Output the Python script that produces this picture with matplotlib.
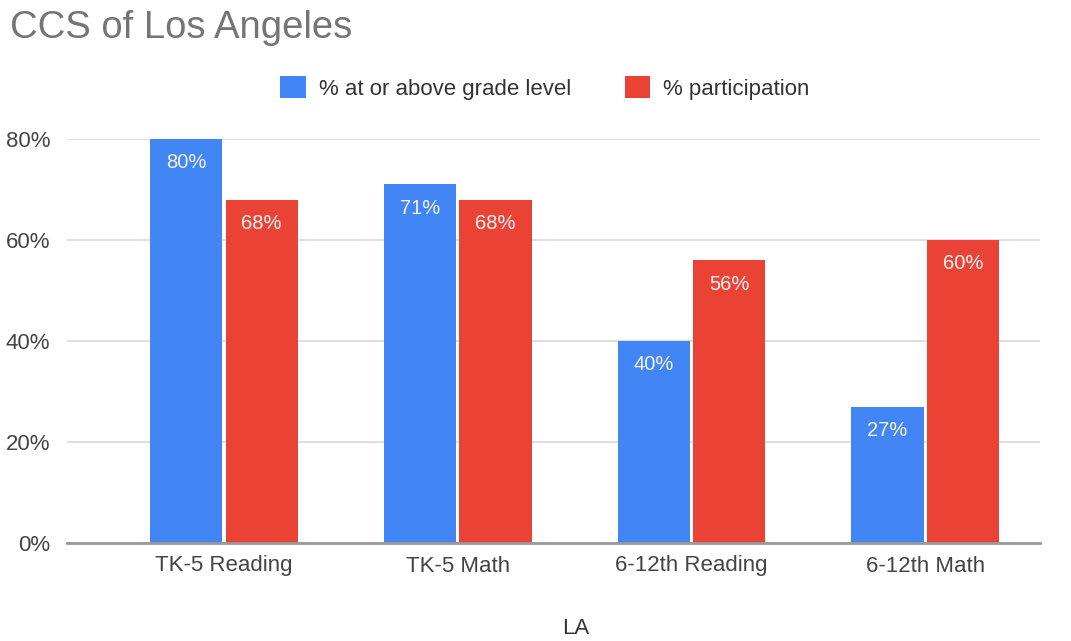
import matplotlib.pyplot as plt
import numpy as np
from matplotlib.patches import Patch

# dados
categorias = ['TK-5 Reading', 'TK-5 Math', '6-12th Reading', '6-12th Math']
acima_nivel = [80, 71, 40, 27]
participacao = [68, 68, 56, 60]
nomes_series = ['% at or above grade level', '% participation']
ticks_y = [0, 20, 40, 60, 80]

AZUL = '#4285F4'
VERMELHO = '#EA4335'

plt.rcParams['font.family'] = ['Liberation Sans', 'DejaVu Sans']

fig = plt.figure(figsize=(10.71, 6.41), dpi=100)
ax = fig.add_axes([67 / 1071, 1 - 543 / 641, 973 / 1071, 404 / 641])

x = np.arange(len(categorias))
largura = 0.308
b1 = ax.bar(x - 0.162, acima_nivel, largura, color=AZUL, zorder=3)
b2 = ax.bar(x + 0.162, participacao, largura, color=VERMELHO, zorder=3)

# rótulos dentro das barras
for barras in (b1, b2):
    for b in barras:
        v = b.get_height()
        ax.annotate(f'{v:.0f}%', (b.get_x() + b.get_width() / 2, v),
                    xytext=(0, -24), textcoords='offset pixels',
                    ha='center', va='center', color='#f4f4f4', fontsize=14.5)

ax.set_xlim(-0.67, 3.49)
ax.set_ylim(0, 80)
ax.set_yticks(ticks_y)
ax.set_yticklabels([f'{t}%' for t in ticks_y])
ax.set_xticks(x)
ax.set_xticklabels(categorias)
ax.tick_params(axis='both', length=0, labelsize=16, labelcolor='#444444')
ax.tick_params(axis='y', pad=12)
ax.tick_params(axis='x', pad=9)

ax.grid(axis='y', color='#dcdcdc', linewidth=1.3, zorder=0)
for lado in ['top', 'right', 'left']:
    ax.spines[lado].set_visible(False)
ax.spines['bottom'].set_color('#999999')
ax.spines['bottom'].set_linewidth(2)
ax.spines['bottom'].set_zorder(4)

fig.text(10 / 1071, 1 - 28 / 641, 'CCS of Los Angeles', fontsize=27.5,
         color='#757575', ha='left', va='center')
fig.text(576 / 1071, 1 - 629 / 641, 'LA', fontsize=16, color='#333333',
         ha='center', va='center')

alcas = [Patch(facecolor=AZUL), Patch(facecolor=VERMELHO)]
fig.legend(alcas, nomes_series, loc='center', bbox_to_anchor=(545 / 1071, 1 - 88 / 641),
           ncol=2, frameon=False, fontsize=16, handlelength=1.15, handleheight=1.15,
           handletextpad=0.6, columnspacing=2.4, labelcolor='#333333')

fig.savefig('out.png', dpi=100)
